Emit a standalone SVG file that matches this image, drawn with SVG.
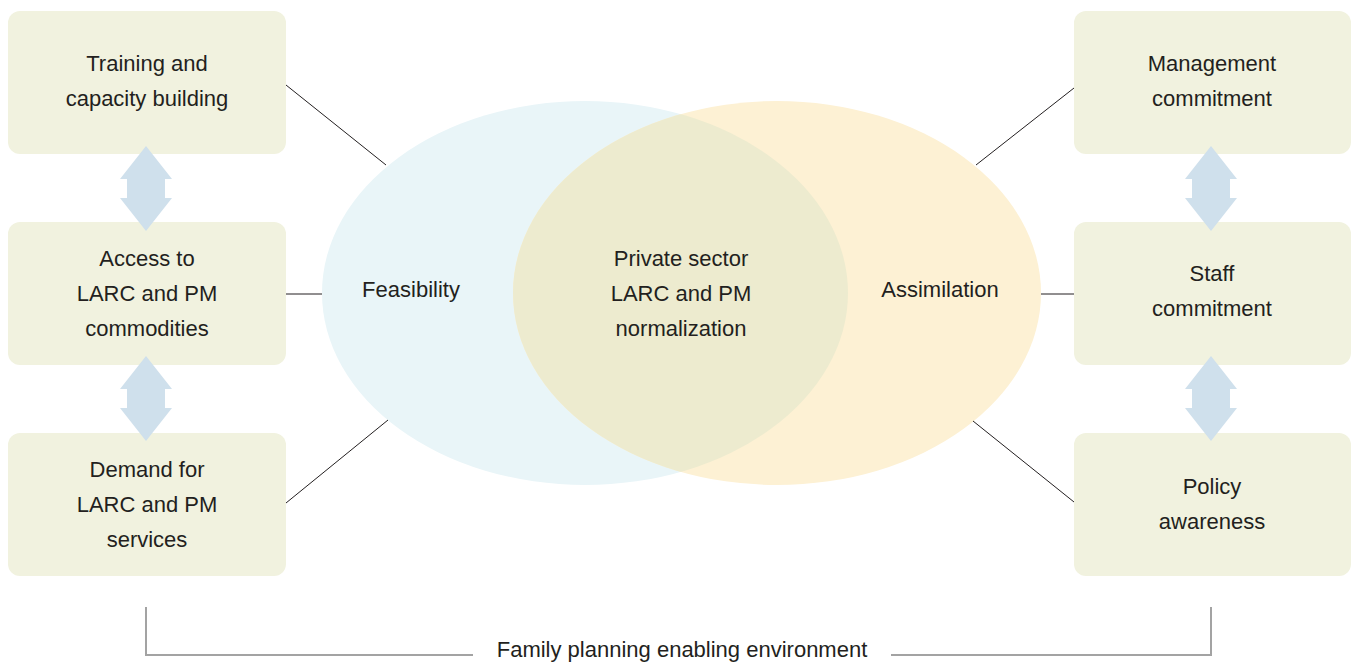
<svg xmlns="http://www.w3.org/2000/svg" width="1353" height="665" viewBox="0 0 1353 665">
<style>
.box{fill:#f1f2df}
.arr{fill:#cfe0ec}
.t{font-family:"Liberation Sans",Arial,sans-serif;font-size:22px;fill:#231f20;text-anchor:middle}
.c{stroke:#231f20;stroke-width:1;fill:none}
.br{stroke:#a3a3a3;stroke-width:2;fill:none}
</style>
<defs>
<clipPath id="clipBlue"><ellipse cx="585" cy="293" rx="263" ry="192"/></clipPath>
<path id="dbl" d="M0,0 L26,33 L19,33 L19,52 L26,52 L0,85 L-26,52 L-19,52 L-19,33 L-26,33 Z"/>
</defs>
<rect width="1353" height="665" fill="#fff"/>
<g id="venn">
<ellipse cx="585" cy="293" rx="263" ry="192" fill="#e9f5f8"/>
<ellipse cx="777" cy="293" rx="264" ry="192" fill="#fdf1d4"/>
<ellipse cx="777" cy="293" rx="264" ry="192" fill="#edebcf" clip-path="url(#clipBlue)"/>
</g>
<g id="n-training"><rect class="box" x="8" y="11" width="278" height="143" rx="12"/>
<text class="t" x="147" y="71">Training and</text><text class="t" x="147" y="106">capacity building</text></g>
<g id="n-access"><rect class="box" x="8" y="222" width="278" height="143" rx="12"/>
<text class="t" x="147" y="266">Access to</text><text class="t" x="147" y="301">LARC and PM</text><text class="t" x="147" y="336">commodities</text></g>
<g id="n-demand"><rect class="box" x="8" y="433" width="278" height="143" rx="12"/>
<text class="t" x="147" y="477">Demand for</text><text class="t" x="147" y="512">LARC and PM</text><text class="t" x="147" y="547">services</text></g>
<g id="n-management"><rect class="box" x="1074" y="11" width="277" height="143" rx="12"/>
<text class="t" x="1212" y="71">Management</text><text class="t" x="1212" y="106">commitment</text></g>
<g id="n-staff"><rect class="box" x="1074" y="222" width="277" height="143" rx="12"/>
<text class="t" x="1212" y="281">Staff</text><text class="t" x="1212" y="316">commitment</text></g>
<g id="n-policy"><rect class="box" x="1074" y="433" width="277" height="143" rx="12"/>
<text class="t" x="1212" y="494">Policy</text><text class="t" x="1212" y="529">awareness</text></g>
<g id="n-feasibility"><text class="t" x="411" y="297">Feasibility</text></g>
<g id="n-center"><text class="t" x="681" y="266">Private sector</text><text class="t" x="681" y="301">LARC and PM</text><text class="t" x="681" y="336">normalization</text></g>
<g id="n-assimilation"><text class="t" x="940" y="297">Assimilation</text></g>
<g id="connectors">
<line class="c" x1="286" y1="85" x2="386" y2="165"/>
<line class="c" x1="286" y1="294" x2="322" y2="294"/>
<line class="c" x1="286" y1="503" x2="388" y2="420"/>
<line class="c" x1="976" y1="165" x2="1074" y2="88"/>
<line class="c" x1="1041" y1="294" x2="1074" y2="294"/>
<line class="c" x1="973" y1="421" x2="1074" y2="502"/>
<use href="#dbl" class="arr" x="146" y="146"/>
<use href="#dbl" class="arr" x="146" y="356"/>
<use href="#dbl" class="arr" x="1211" y="146"/>
<use href="#dbl" class="arr" x="1211" y="356"/>
<path class="br" d="M146,607 V655 H473"/>
<path class="br" d="M891,655 H1211 V607"/>
</g>
<g id="n-environment"><text class="t" x="682" y="657">Family planning enabling environment</text></g>
</svg>
